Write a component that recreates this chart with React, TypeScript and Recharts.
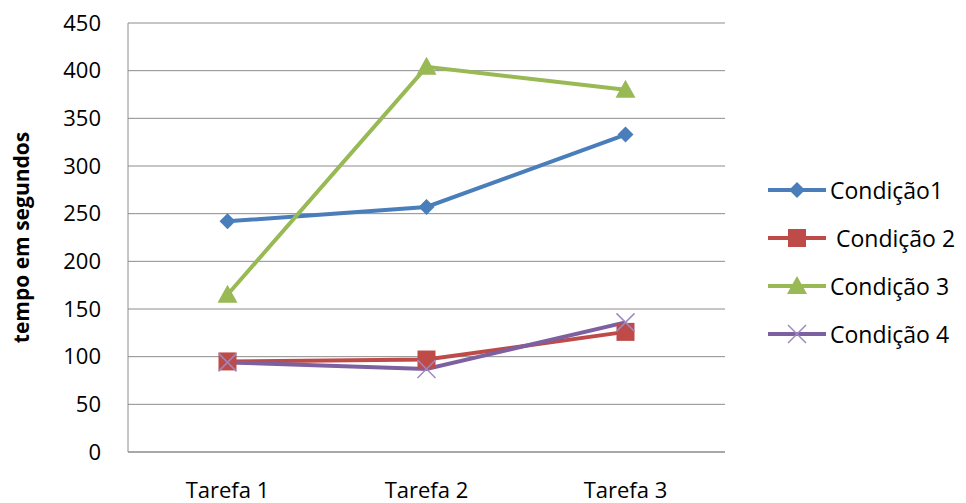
import React from "react";
import {
  LineChart,
  Line,
  XAxis,
  YAxis,
  CartesianGrid,
  Legend,
} from "recharts";

const categories = ["Tarefa 1", "Tarefa 2", "Tarefa 3"];
const cond1 = [242, 257, 333];
const cond2 = [95, 97, 126];
const cond3 = [165, 404, 380];
const cond4 = [94, 87, 136];
const yTicks = [0, 50, 100, 150, 200, 250, 300, 350, 400, 450];

const SERIES = [
  { key: "c1", name: "Condição1", color: "#4A7EBB", marker: "diamond" },
  { key: "c2", name: " Condição 2", color: "#BE4B48", marker: "square" },
  { key: "c3", name: "Condição 3", color: "#98B954", marker: "triangle" },
  { key: "c4", name: "Condição 4", color: "#7D60A0", marker: "x" },
];

const data = categories.map((name, i) => ({
  name,
  c1: cond1[i],
  c2: cond2[i],
  c3: cond3[i],
  c4: cond4[i],
}));

const FONT = "'Open Sans', sans-serif";

function Marker({ type, cx, cy, color }: any) {
  if (cx == null || cy == null) return null;
  if (type === "diamond") {
    const r = 8;
    return (
      <polygon
        points={`${cx},${cy - r} ${cx + r},${cy} ${cx},${cy + r} ${cx - r},${cy}`}
        fill={color}
      />
    );
  }
  if (type === "square") {
    const r = 9;
    return <rect x={cx - r} y={cy - r} width={r * 2} height={r * 2} fill={color} />;
  }
  if (type === "triangle") {
    const r = 10;
    return (
      <polygon
        points={`${cx},${cy - r} ${cx + r},${cy + r * 0.8} ${cx - r},${cy + r * 0.8}`}
        fill={color}
      />
    );
  }
  const r = 9;
  return (
    <g stroke="#9D87C0" strokeWidth={1.5}>
      <line x1={cx - r} y1={cy - r} x2={cx + r} y2={cy + r} />
      <line x1={cx - r} y1={cy + r} x2={cx + r} y2={cy - r} />
    </g>
  );
}

function renderLegend() {
  return (
    <div style={{ fontFamily: FONT, fontSize: 23, color: "#000" }}>
      {SERIES.map((s) => (
        <div
          key={s.key}
          style={{ display: "flex", alignItems: "center", height: 48, whiteSpace: "pre" }}
        >
          <svg width={62} height={30} style={{ marginRight: 2 }}>
            <line x1={2} y1={15} x2={60} y2={15} stroke={s.color} strokeWidth={4} />
            <Marker type={s.marker} cx={31} cy={15} color={s.color} />
          </svg>
          <span>{s.name}</span>
        </div>
      ))}
    </div>
  );
}

export default function App() {
  return (
    <div style={{ position: "absolute", left: 0, top: 0, background: "#fff" }}>
      <LineChart
        width={966}
        height={503}
        data={data}
        margin={{ top: 23, right: 41, bottom: 0, left: 68 }}
      >
        <CartesianGrid vertical={false} stroke="#8C8C8C" strokeWidth={1} />
        <XAxis
          dataKey="name"
          scale="band"
          axisLine={{ stroke: "#8C8C8C" }}
          tickLine={false}
          tickSize={0}
          tickMargin={30}
          height={51}
          tick={{ fontFamily: FONT, fontSize: 22, fill: "#000" }}
        />
        <YAxis
          width={60}
          domain={[0, 450]}
          ticks={yTicks}
          interval={0}
          axisLine={{ stroke: "#8C8C8C" }}
          tickLine={false}
          tickSize={0}
          tickMargin={27}
          tick={{ fontFamily: FONT, fontSize: 22, fill: "#000" }}
          label={{
            value: "tempo em segundos",
            angle: -90,
            position: "left",
            offset: 46,
            style: {
              fontFamily: FONT,
              fontSize: 21,
              fontWeight: 700,
              fill: "#000",
              textAnchor: "middle",
            },
          }}
        />
        <Legend
          layout="vertical"
          align="right"
          verticalAlign="middle"
          content={renderLegend}
          wrapperStyle={{ left: 766, top: 166, width: 200 }}
        />
        {SERIES.map((s) => (
          <Line
            key={s.key}
            dataKey={s.key}
            name={s.name}
            stroke={s.color}
            strokeWidth={4}
            isAnimationActive={false}
            dot={(p: any) => (
              <Marker key={`${s.key}-${p.index}`} type={s.marker} cx={p.cx} cy={p.cy} color={s.color} />
            )}
            activeDot={false}
          />
        ))}
      </LineChart>
    </div>
  );
}
